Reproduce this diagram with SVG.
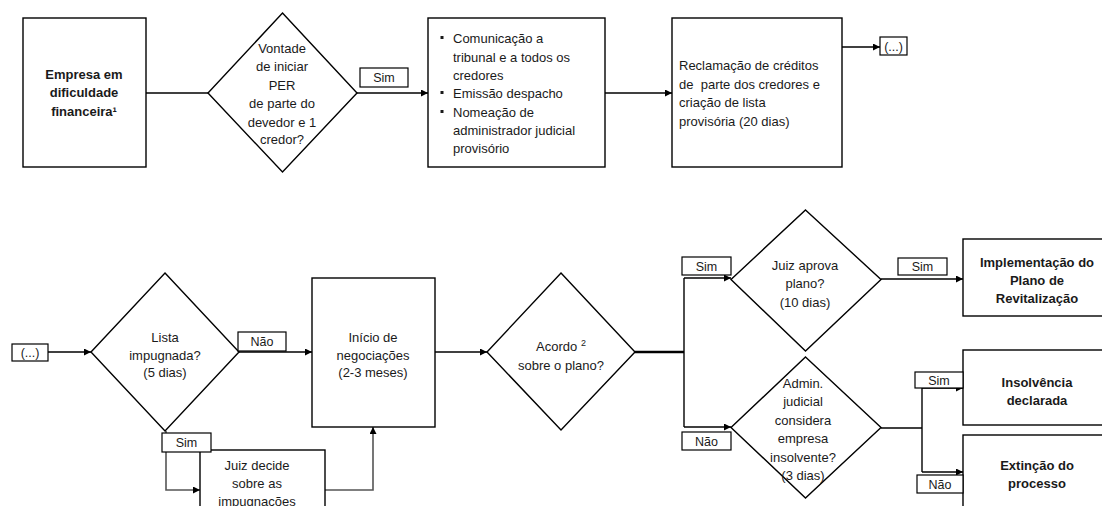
<svg xmlns="http://www.w3.org/2000/svg" width="1102" height="506" viewBox="0 0 1102 506">
<style>
.n{fill:#fff;stroke:#000;stroke-width:1.4}
.l{fill:#fff;stroke:#000;stroke-width:1.2}
text{font-family:"Liberation Sans",Arial,sans-serif;font-size:13px;fill:#1a1a1a}
.c{text-anchor:middle}
.b{font-weight:bold}
.s{font-size:12.5px}
.e{fill:none;stroke:#000;stroke-width:1.4}
.g{fill:none;stroke:#555;stroke-width:1.6}
.t{fill:none;stroke:#000;stroke-width:2.6}
</style>
<defs>
<marker id="a" viewBox="0 0 10 10" refX="10" refY="5" markerWidth="8" markerHeight="7" markerUnits="userSpaceOnUse" orient="auto">
<path d="M0,0L10,5L0,10z" fill="#000"/>
</marker>
</defs>
<rect width="1102" height="506" fill="#fff"/>
<g id="connectors">
<path class="e" d="M146,93H208"/>
<path class="e" d="M357,93H428" marker-end="url(#a)"/>
<path class="e" d="M605,93H672" marker-end="url(#a)"/>
<path class="e" d="M842,47H880" marker-end="url(#a)"/>
<path class="e" d="M48,352H91" marker-end="url(#a)"/>
<path class="e" d="M239,352H312" marker-end="url(#a)"/>
<path class="e" d="M435,352H487" marker-end="url(#a)"/>
<path class="t" d="M635,352H684"/>
<path class="e" d="M684,278V427"/>
<path class="e" d="M684,278H731" marker-end="url(#a)"/>
<path class="e" d="M684,427H731" marker-end="url(#a)"/>
<path class="e" d="M881,279H963" marker-end="url(#a)"/>
<path class="e" d="M881,428H922"/>
<path class="e" d="M922,388V472"/>
<path class="e" d="M922,388H963" marker-end="url(#a)"/>
<path class="e" d="M922,472H963" marker-end="url(#a)"/>
<path class="g" d="M166,431V490H200" marker-end="url(#a)"/>
<path class="g" d="M325,490H373V427" marker-end="url(#a)"/>
</g>
<g id="n1">
<rect class="n" x="23" y="18" width="123" height="149"/>
<text class="c b" x="84" y="78.5">Empresa em</text>
<text class="c b" x="84" y="97">dificuldade</text>
<text class="c b" x="84" y="115.5">financeira¹</text>
</g>
<g id="n2">
<polygon class="n" points="282.5,13 357,93 282.5,172 208,93"/>
<text class="c" x="282" y="52.5">Vontade</text>
<text class="c" x="282" y="71">de iniciar</text>
<text class="c" x="282" y="89.5">PER</text>
<text class="c" x="282" y="108">de parte do</text>
<text class="c" x="282" y="126.5">devedor e 1</text>
<text class="c" x="282" y="143.5">credor?</text>
</g>
<g id="n3">
<rect class="n" x="428" y="18" width="177" height="149"/>
<rect x="440.5" y="36" width="3" height="3" fill="#1a1a1a"/>
<rect x="440.5" y="91" width="3" height="3" fill="#1a1a1a"/>
<rect x="440.5" y="110" width="3" height="3" fill="#1a1a1a"/>
<text x="453" y="43">Comunicação a</text>
<text x="453" y="61.5">tribunal e a todos os</text>
<text x="453" y="80">credores</text>
<text x="453" y="98">Emissão despacho</text>
<text x="453" y="116.5">Nomeação de</text>
<text x="453" y="135">administrador judicial</text>
<text x="453" y="153">provisório</text>
</g>
<g id="n4">
<rect class="n" x="672" y="18" width="170" height="149"/>
<text x="679" y="69.5">Reclamação de créditos</text>
<text x="679" y="88.5" xml:space="preserve">de  parte dos credores e</text>
<text x="679" y="107">criação de lista</text>
<text x="679" y="125.5">provisória (20 dias)</text>
</g>
<g id="n5">
<rect class="l" x="880" y="37" width="27" height="18"/>
<text class="c s" x="893.5" y="50.5">(...)</text>
</g>
<g id="n6">
<rect class="l" x="12" y="344" width="36" height="17"/>
<text class="c s" x="30" y="357">(...)</text>
</g>
<g id="n7">
<polygon class="n" points="165,273 239,352 165,431 91,352"/>
<text class="c" x="165" y="341.5">Lista</text>
<text class="c" x="165" y="359.5">impugnada?</text>
<text class="c" x="165" y="376.5">(5 dias)</text>
</g>
<g id="n8">
<rect class="n" x="312" y="278" width="123" height="149"/>
<text class="c" x="373" y="341.5">Início de</text>
<text class="c" x="373" y="359.5">negociações</text>
<text class="c" x="373" y="376.5">(2-3 meses)</text>
</g>
<g id="n9">
<rect class="n" x="200" y="450" width="125" height="70"/>
<text class="c" x="257" y="469.5">Juiz decide</text>
<text class="c" x="257" y="487.5">sobre as</text>
<text class="c" x="257" y="506">impugnações</text>
</g>
<g id="n10">
<polygon class="n" points="561,273 635,352 561,430 487,352"/>
<text class="c" x="561" y="351">Acordo <tspan font-size="9" dy="-5">2</tspan></text>
<text class="c" x="561" y="369.5">sobre o plano?</text>
</g>
<g id="n11">
<polygon class="n" points="805.5,210 881,279.5 805.5,351 731,279.5"/>
<text class="c" x="805" y="269.5">Juiz aprova</text>
<text class="c" x="805" y="287.5">plano?</text>
<text class="c" x="805" y="306.5">(10 dias)</text>
</g>
<g id="n12">
<polygon class="n" points="805.5,357 881,427.5 805.5,498 731,427.5"/>
<text class="c" x="803" y="387.5">Admin.</text>
<text class="c" x="803" y="406">judicial</text>
<text class="c" x="803" y="424.5">considera</text>
<text class="c" x="803" y="443">empresa</text>
<text class="c" x="803" y="461.5">insolvente?</text>
<text class="c" x="803" y="480">(3 dias)</text>
</g>
<g id="n13">
<rect class="n" x="963" y="239" width="142" height="77"/>
<text class="c b" x="1037" y="266.5">Implementação do</text>
<text class="c b" x="1037" y="284.5">Plano de</text>
<text class="c b" x="1037" y="302.5">Revitalização</text>
</g>
<g id="n14">
<rect class="n" x="963" y="350" width="142" height="75"/>
<text class="c b" x="1037" y="386.5">Insolvência</text>
<text class="c b" x="1037" y="404.5">declarada</text>
</g>
<g id="n15">
<rect class="n" x="963" y="435" width="142" height="80"/>
<text class="c b" x="1037" y="469.5">Extinção do</text>
<text class="c b" x="1037" y="487.5">processo</text>
</g>
<g id="labels">
<rect class="l" x="360" y="68" width="48" height="19"/>
<text class="c s" x="384" y="82">Sim</text>
<rect class="l" x="238" y="332" width="48" height="19"/>
<text class="c s" x="262" y="346">Não</text>
<rect class="l" x="162" y="433" width="49" height="19"/>
<text class="c s" x="186.5" y="447">Sim</text>
<rect class="l" x="682" y="257" width="49" height="18"/>
<text class="c s" x="706.5" y="270.5">Sim</text>
<rect class="l" x="682" y="432" width="49" height="18"/>
<text class="c s" x="706.5" y="445.5">Não</text>
<rect class="l" x="898" y="258" width="49" height="17"/>
<text class="c s" x="922.5" y="271">Sim</text>
<rect class="l" x="915" y="372" width="48" height="16"/>
<text class="c s" x="939" y="384.5">Sim</text>
<rect class="l" x="917" y="475" width="46" height="18"/>
<text class="c s" x="940" y="488.5">Não</text>
</g>
</svg>
